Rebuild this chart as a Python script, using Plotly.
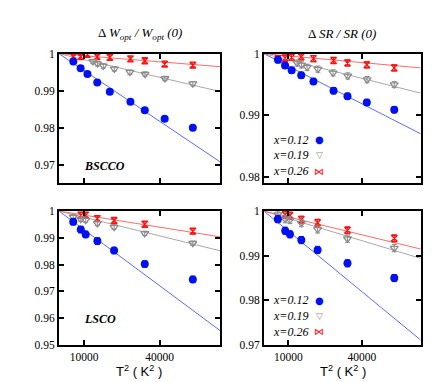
import plotly.graph_objects as go

W, H = 436, 382

# ---------------- data ----------------
# BSCCO (top row)
T2_B = [5700, 8600, 11300, 15200, 20200, 28400, 34100, 42000, 53200]          # x=0.12 and x=0.26
T2_B_GREY = [13500, 15300, 17600, 22000, 28200, 34200, 42100, 53200]         # x=0.19

W_B_012 = [0.9979, 0.9961, 0.9945, 0.9922, 0.9897, 0.9870, 0.9847, 0.9824, 0.9800]
W_B_019 = [0.9979, 0.9973, 0.9967, 0.9959, 0.9950, 0.9945, 0.9933, 0.9919]
W_B_026 = [0.9992, 0.9992, 0.9998, 0.9992, 0.9990, 0.9986, 0.9981, 0.9972, 0.9969]

SR_B_012 = [0.9990, 0.9981, 0.9973, 0.9965, 0.9955, 0.9940, 0.9931, 0.9921, 0.9909]
SR_B_019 = [0.9985, 0.9982, 0.9978, 0.9975, 0.9969, 0.9964, 0.9958, 0.9950]
SR_B_026 = [0.9992, 0.9993, 0.9994, 0.9995, 0.9992, 0.9989, 0.9985, 0.9982, 0.9977]

# LSCO (bottom row)
T2_L = [5650, 8650, 10600, 15250, 21900, 34100, 53200]
T2_L_RED = [8650, 10600, 15250, 21900, 34100, 53200]

W_L_012 = [0.9960, 0.9931, 0.9913, 0.9888, 0.9853, 0.9802, 0.9745]
W_L_019 = [0.9978, 0.9970, 0.9966, 0.9954, 0.9940, 0.9917, 0.9880]
W_L_026 = [0.9985, 0.9985, 0.9972, 0.9965, 0.9951, 0.9925]

SR_L_012 = [0.9982, 0.9956, 0.9948, 0.9935, 0.9913, 0.9883, 0.9850]
SR_L_019 = [0.9992, 0.9982, 0.9980, 0.9973, 0.9959, 0.9938, 0.9917]
SR_L_026 = [0.9992, 0.9990, 0.9981, 0.9974, 0.9957, 0.9939]

# error bars (half widths)
ERR_W_B = [0.0004, 0.0006, 0.0006]
ERR_SR_B = [0.0005, 0.0005, 0.0005]
ERR_W_L = [0.0012, 0.0008, 0.0010]
ERR_SR_L = [0.0008, 0.0008, 0.0008]

# linear fits: value at T^2 = 0 and at T^2 = 64000
FIT_X = [0, 64000]
FIT_W_B = [[1, 0.9708], [1, 0.9898], [1, 0.9965]]
FIT_SR_B = [[1, 0.9870], [1, 0.9936], [1, 0.9977]]
FIT_W_L = [[1, 0.9554], [1, 0.9852], [1, 0.9904]]
FIT_SR_L = [[1, 0.9711], [1, 0.9894], [1, 0.9915]]

X_TICKS = [10000, 40000]
Y_TICKS_TL = [1, 0.99, 0.98, 0.97]
Y_TICKS_TR = [1, 0.99, 0.98]
Y_TICKS_BL = [1, 0.99, 0.98, 0.97, 0.96, 0.95]
Y_TICKS_BR = [1, 0.99, 0.98, 0.97]
LEGEND_LABELS = ["x=0.12", "x=0.19", "x=0.26"]

# ---------------- styles ----------------
MK_COL = ["#0010f0", "#8c8c8c", "#ff1010"]
LN_COL = ["#5a6cff", "#a8a8a8", "#ff6a6a"]
SYMB = ["circle", "triangle-down-open", "hourglass-open"]
MSIZE = [8, 7, 6]

fig = go.Figure()


def add_panel(k, xs_list, ys_list, errs, fits):
    xa = "x" if k == 1 else f"x{k}"
    ya = "y" if k == 1 else f"y{k}"
    for i in range(3):
        fig.add_trace(go.Scatter(
            x=FIT_X, y=fits[i], mode="lines", xaxis=xa, yaxis=ya,
            line=dict(color=LN_COL[i], width=1), showlegend=False, hoverinfo="skip"))
    for i in [2, 1, 0]:
        fig.add_trace(go.Scatter(
            x=xs_list[i], y=ys_list[i], mode="markers", xaxis=xa, yaxis=ya,
            marker=dict(symbol=SYMB[i], size=MSIZE[i], color=MK_COL[i],
                        line=dict(color=MK_COL[i], width=1.3 if i else 0)),
            error_y=dict(type="constant", value=errs[i], color=MK_COL[i],
                         thickness=1, width=2.5),
            showlegend=False, name=LEGEND_LABELS[i]))


add_panel(1, [T2_B, T2_B_GREY, T2_B], [W_B_012, W_B_019, W_B_026], ERR_W_B, FIT_W_B)
add_panel(2, [T2_B, T2_B_GREY, T2_B], [SR_B_012, SR_B_019, SR_B_026], ERR_SR_B, FIT_SR_B)
add_panel(3, [T2_L, T2_L, T2_L_RED], [W_L_012, W_L_019, W_L_026], ERR_W_L, FIT_W_L)
add_panel(4, [T2_L, T2_L, T2_L_RED], [SR_L_012, SR_L_019, SR_L_026], ERR_SR_L, FIT_SR_L)

TICKFONT = dict(family="Liberation Serif", size=11.5, color="black")


def xaxis(dom, anchor, labels):
    return dict(domain=dom, anchor=anchor, range=[0, 64000], tickvals=X_TICKS,
                ticktext=[str(v) for v in X_TICKS], showticklabels=labels,
                ticks="inside", ticklen=5, tickwidth=1.5, tickcolor="black",
                showline=True, linewidth=2, linecolor="black", mirror="allticks",
                showgrid=False, zeroline=False, tickfont=TICKFONT)


def yaxis(dom, anchor, rng, tv):
    return dict(domain=dom, anchor=anchor, range=rng, tickvals=tv,
                ticktext=[("1" if v == 1 else f"{v:.2f}") for v in tv],
                ticks="inside", ticklen=5, tickwidth=1.5, tickcolor="black",
                showline=True, linewidth=2, linecolor="black", mirror="allticks",
                showgrid=False, zeroline=False, tickfont=TICKFONT)


def fx(px):
    return px / W


def fy(py):
    return 1 - py / H


XL = [fx(51), fx(212)]
XR = [fx(256), fx(412.7)]
YT = [fy(174), fy(41)]
YB = [fy(341.7), fy(203.5)]

annotations = []
SERIF = "Liberation Serif"


def ann(px, py, text, font, xanchor="center"):
    annotations.append(dict(x=fx(px), y=fy(py), xref="paper", yref="paper",
                            xanchor=xanchor, yanchor="middle", text=text,
                            showarrow=False, font=font))


ann(131.5, 20.5, "Δ <i>W<sub>opt</sub> / W<sub>opt</sub> (0)</i>",
    dict(family=SERIF, size=13, color="black"))
ann(334, 20.5, "Δ <i>SR / SR (0)</i>", dict(family=SERIF, size=13, color="black"))
for cx in [131, 335]:
    ann(cx, 369, "T<sup>2</sup> ( K<sup>2</sup> )",
        dict(family="Liberation Sans", size=13, color="black"))
ann(74, 157, "<b><i>BSCCO</i></b>", dict(family=SERIF, size=12, color="black"), "left")
ann(74, 314.5, "<b><i>LSCO</i></b>", dict(family=SERIF, size=12, color="black"), "left")

LEG_SYM = ["●", "▽", "⋈"]
for rows in ([130, 146, 162.5], [295.3, 312, 328.3]):
    for i, ry in enumerate(rows):
        ann(302, ry, f"<i>{LEGEND_LABELS[i]}</i>", dict(family=SERIF, size=12, color="black"), "right")
        ann(311, ry, LEG_SYM[i], dict(family="DejaVu Sans", size=10 if i != 1 else 9,
                                      color=MK_COL[i]))

fig.update_layout(
    width=W, height=H, margin=dict(l=0, r=0, t=0, b=0),
    paper_bgcolor="white", plot_bgcolor="white", showlegend=False,
    xaxis=xaxis(XL, "y", False), yaxis=yaxis(YT, "x", [0.9652, 1.0], Y_TICKS_TL),
    xaxis2=xaxis(XR, "y2", False), yaxis2=yaxis(YT, "x2", [0.9791, 1.0], Y_TICKS_TR),
    xaxis3=xaxis(XL, "y3", True), yaxis3=yaxis(YB, "x3", [0.95, 1.0], Y_TICKS_BL),
    xaxis4=xaxis(XR, "y4", True), yaxis4=yaxis(YB, "x4", [0.97, 1.0], Y_TICKS_BR),
    annotations=annotations,
)

fig.write_html("out.html")
